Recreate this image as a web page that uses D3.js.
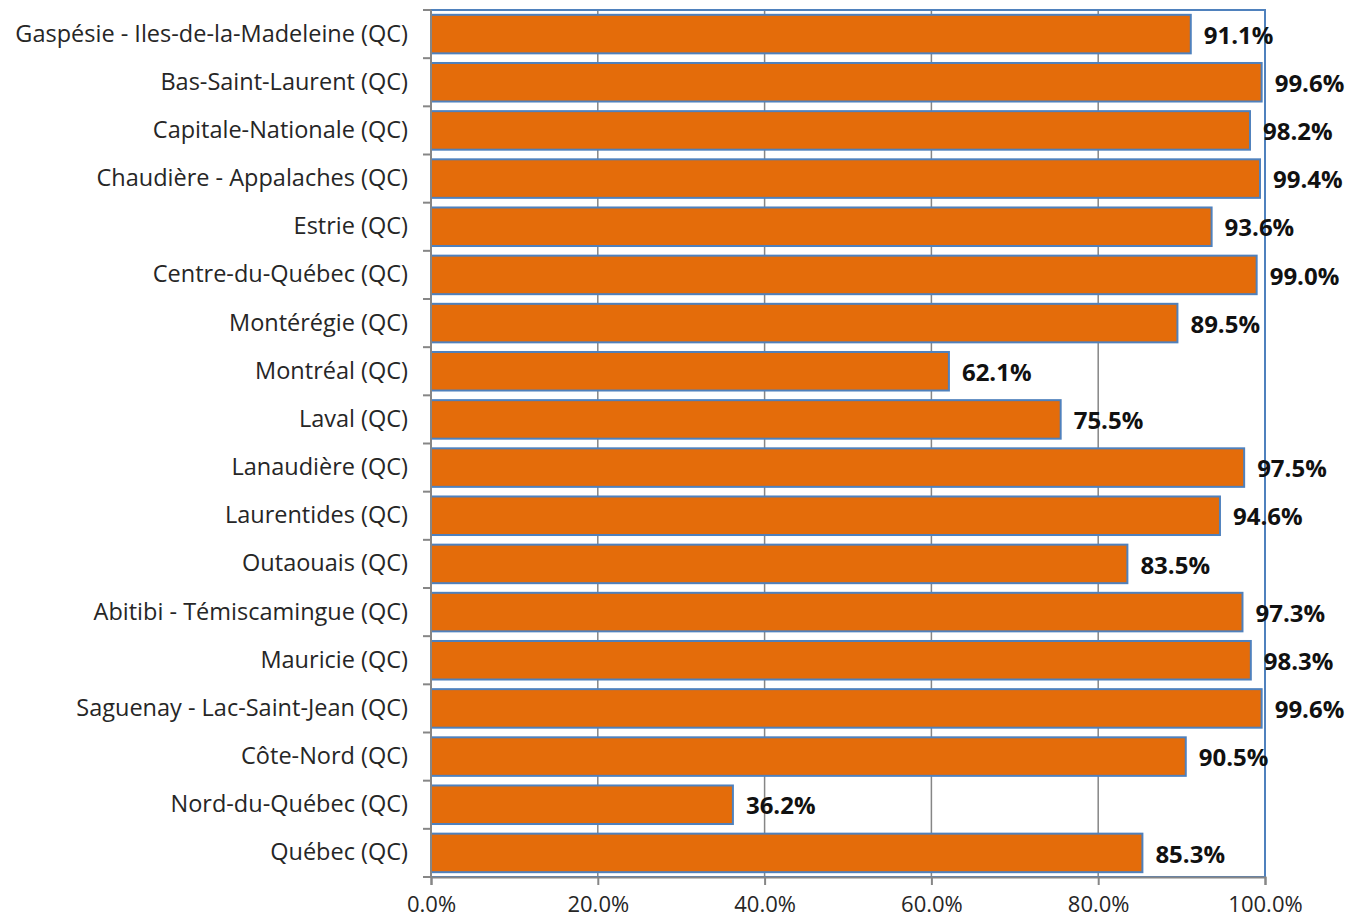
<!DOCTYPE html>
<html>
<head>
<meta charset="utf-8">
<script src="https://cdn.jsdelivr.net/npm/d3@7"></script>
<style>
body { margin: 0; background: #fff; }
</style>
</head>
<body>
<div id="chart"></div>
<script>
// donnees
var regions = ["Gaspésie - Iles-de-la-Madeleine (QC)", "Bas-Saint-Laurent (QC)", "Capitale-Nationale (QC)",
  "Chaudière - Appalaches (QC)", "Estrie (QC)", "Centre-du-Québec (QC)", "Montérégie (QC)", "Montréal (QC)",
  "Laval (QC)", "Lanaudière (QC)", "Laurentides (QC)", "Outaouais (QC)", "Abitibi - Témiscamingue (QC)",
  "Mauricie (QC)", "Saguenay - Lac-Saint-Jean (QC)", "Côte-Nord (QC)", "Nord-du-Québec (QC)", "Québec (QC)"];
var valeurs = [91.1, 99.6, 98.2, 99.4, 93.6, 99.0, 89.5, 62.1, 75.5, 97.5, 94.6, 83.5, 97.3, 98.3, 99.6, 90.5, 36.2, 85.3];
var ticks = [0, 20, 40, 60, 80, 100];

var police = "'Open Sans', sans-serif";
var width = 1348, height = 922;
var margin = {top: 10, right: 83, bottom: 45, left: 431};

var svg = d3.select("#chart").append("svg")
  .attr("width", width)
  .attr("height", height)
  .style("font-family", police);

var eX = d3.scaleLinear().domain([0, 100]).range([margin.left, width - margin.right]);
var eY = d3.scaleBand().domain(regions).range([margin.top, height - margin.bottom]).paddingInner(0.2).paddingOuter(0.1);

// grille
svg.append("g").selectAll("line")
  .data(ticks.slice(1, -1))
  .enter().append("line")
  .attr("x1", function(d){ return eX(d); })
  .attr("x2", function(d){ return eX(d); })
  .attr("y1", margin.top)
  .attr("y2", height - margin.bottom)
  .style("stroke", "#868686")
  .style("stroke-width", 1.5);

// bordure zone
svg.append("rect")
  .attr("x", eX(0))
  .attr("y", margin.top)
  .attr("width", eX(100) - eX(0))
  .attr("height", height - margin.bottom - margin.top)
  .style("fill", "none")
  .style("stroke", "#4F81BD")
  .style("stroke-width", 2);

// barres
svg.append("g").selectAll("rect")
  .data(valeurs)
  .enter().append("rect")
  .attr("x", eX(0))
  .attr("y", function(d, i){ return eY(regions[i]); })
  .attr("width", function(d){ return eX(d) - eX(0); })
  .attr("height", eY.bandwidth())
  .style("fill", "#E46C0A")
  .style("stroke", "#4F81BD")
  .style("stroke-width", 2);

// etiquettes
svg.append("g").selectAll("text")
  .data(valeurs)
  .enter().append("text")
  .attr("x", function(d){ return eX(d) + 13; })
  .attr("y", function(d, i){ return eY(regions[i]) + eY.bandwidth() / 2; })
  .attr("dy", "0.4em")
  .style("font-size", "24px")
  .style("font-weight", "bold")
  .style("fill", "#111")
  .text(function(d){ return d.toFixed(1) + "%"; });

// axe Y
var yAxis = d3.axisLeft(eY).tickSize(0).tickPadding(23);
var gy = svg.append("g")
  .attr("transform", "translate(" + margin.left + ",0)")
  .call(yAxis);
gy.select(".domain").remove();
gy.selectAll("text").style("font-size", "23.5px").style("fill", "#262626").style("font-family", police);

// traits separateurs des categories
var bords = regions.map(function(d){ return eY(d) - eY.step() * eY.paddingInner() / 2; });
bords.push(height - margin.bottom);
bords[0] = margin.top;
svg.append("g").selectAll("line")
  .data(bords)
  .enter().append("line")
  .attr("x1", margin.left - 8)
  .attr("x2", margin.left)
  .attr("y1", function(d){ return d; })
  .attr("y2", function(d){ return d; })
  .style("stroke", "#868686")
  .style("stroke-width", 2);

svg.append("line")
  .attr("x1", margin.left).attr("x2", margin.left)
  .attr("y1", margin.top).attr("y2", height - margin.bottom)
  .style("stroke", "#868686").style("stroke-width", 2);

// axe X
var xAxis = d3.axisBottom(eX).tickValues(ticks).tickSize(8).tickPadding(11)
  .tickFormat(function(d){ return d.toFixed(1) + "%"; });
var gx = svg.append("g")
  .attr("transform", "translate(0," + (height - margin.bottom) + ")")
  .call(xAxis);
gx.select(".domain").style("stroke", "#868686").style("stroke-width", 2);
gx.selectAll(".tick line").style("stroke", "#868686").style("stroke-width", 2);
gx.selectAll("text").style("font-size", "22px").style("fill", "#262626").style("font-family", police);
</script>
</body>
</html>
